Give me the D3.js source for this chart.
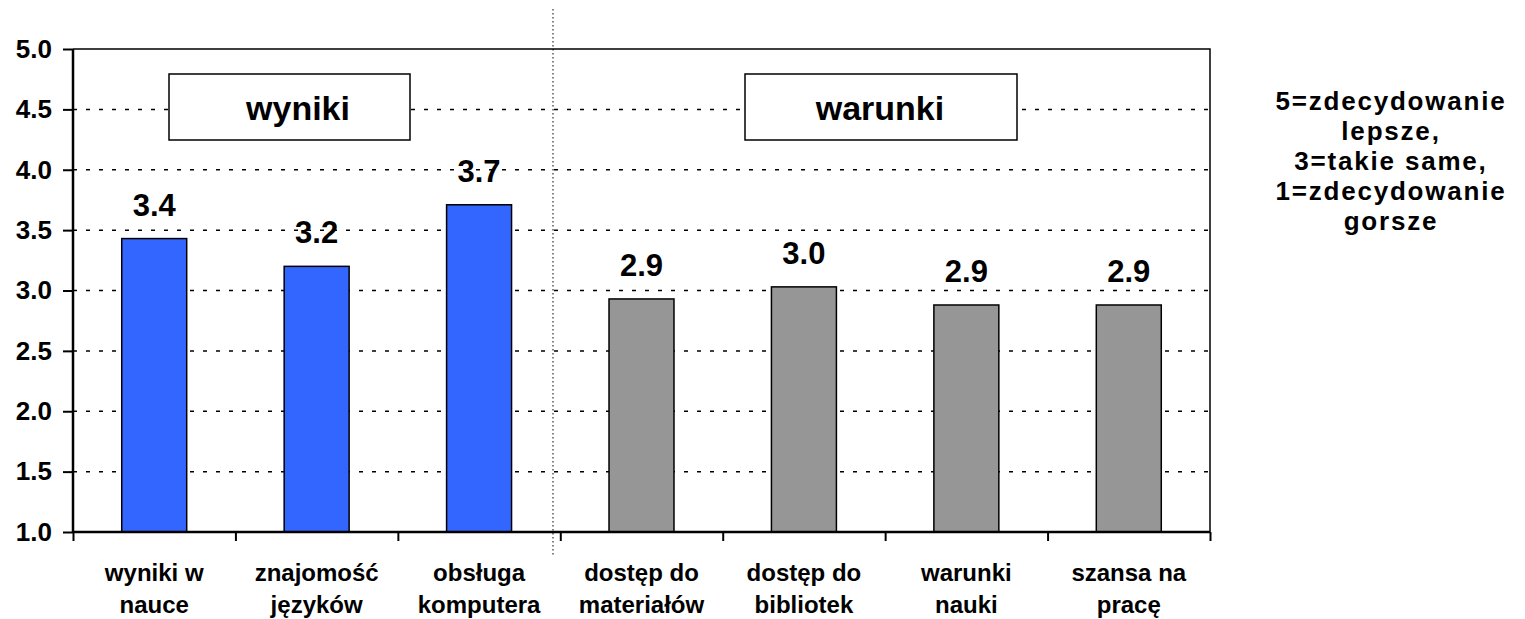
<!DOCTYPE html>
<html>
<head>
<meta charset="utf-8">
<script src="https://cdn.jsdelivr.net/npm/d3@7"></script>
<style>
  body { margin: 0; background: #fff; }
  svg text { font-family: "Liberation Sans", Arial, sans-serif; font-weight: bold; fill: #000; }
</style>
</head>
<body>
<div id="chart"></div>
<script>
// kategorie (dwie linie etykiety)
const categories = [
  ["wyniki w", "nauce"],
  ["znajomość", "języków"],
  ["obsługa", "komputera"],
  ["dostęp do", "materiałów"],
  ["dostęp do", "bibliotek"],
  ["warunki", "nauki"],
  ["szansa na", "pracę"]
];
const values = [3.43, 3.20, 3.71, 2.93, 3.03, 2.88, 2.88];
const groups = ["wyniki", "wyniki", "wyniki", "warunki", "warunki", "warunki", "warunki"];
const yTicks = [1.0, 1.5, 2.0, 2.5, 3.0, 3.5, 4.0, 4.5, 5.0];
const groupTitles = ["wyniki", "warunki"];
const noteLines = ["5=zdecydowanie", "lepsze,", "3=takie same,", "1=zdecydowanie", "gorsze"];

const width = 1525, height = 619;
const plot = { left: 73, right: 1210, top: 49, bottom: 532 };

const svg = d3.select("#chart").append("svg")
    .attr("width", width)
    .attr("height", height);

const x = d3.scaleBand()
    .domain(d3.range(categories.length))
    .range([plot.left, plot.right])
    .paddingInner(0.6)
    .paddingOuter(0.3);

const y = d3.scaleLinear()
    .domain([1, 5])
    .range([plot.bottom, plot.top]);

// siatka - krótkie kreski
svg.append("g")
  .selectAll("line")
  .data(yTicks.filter(d => d > 1 && d < 5))
  .join("line")
    .attr("x1", plot.left)
    .attr("x2", plot.right)
    .attr("y1", d => y(d))
    .attr("y2", d => y(d))
    .attr("stroke", "#000")
    .attr("stroke-width", 1.5)
    .attr("stroke-dasharray", "4,9");

// ramka obszaru wykresu (góra i prawa strona)
svg.append("path")
    .attr("d", `M${plot.left},${y(5)}H${plot.right}V${plot.bottom}`)
    .attr("fill", "none")
    .attr("stroke", "#000")
    .attr("stroke-width", 1.5);

// pionowa linia podziału
const divX = 553;
svg.append("line")
    .attr("x1", divX).attr("x2", divX)
    .attr("y1", 9).attr("y2", 557)
    .attr("stroke", "#000")
    .attr("stroke-width", 1)
    .attr("stroke-dasharray", "1.5,2.5");

// pola z tytułami grup
const boxes = [
  { x0: 169, x1: 410, tx: 298 },
  { x0: 745, x1: 1017, tx: 880 }
];
boxes.forEach((b, i) => {
  svg.append("rect")
      .attr("x", b.x0).attr("y", 74)
      .attr("width", b.x1 - b.x0).attr("height", 66)
      .attr("fill", "#fff")
      .attr("stroke", "#000")
      .attr("stroke-width", 1.5);
  svg.append("text")
      .attr("x", b.tx)
      .attr("y", 120)
      .attr("text-anchor", "middle")
      .attr("font-size", 34)
      .text(groupTitles[i]);
});

// słupki
svg.append("g")
  .selectAll("rect")
  .data(values)
  .join("rect")
    .attr("x", (d, i) => x(i))
    .attr("y", d => y(d))
    .attr("width", x.bandwidth())
    .attr("height", d => y(1) - y(d))
    .attr("fill", (d, i) => groups[i] === "wyniki" ? "#3366ff" : "#969696")
    .attr("stroke", "#000")
    .attr("stroke-width", 1.5);

// wartości nad słupkami
svg.append("g")
  .selectAll("text")
  .data(values)
  .join("text")
    .attr("x", (d, i) => x(i) + x.bandwidth() / 2)
    .attr("y", d => y(d) - 23)
    .attr("text-anchor", "middle")
    .attr("font-size", 31)
    .text(d => d3.format(".1f")(d));

// oś Y
const yAxis = svg.append("g")
    .attr("transform", `translate(${plot.left},0)`)
    .call(d3.axisLeft(y).tickValues(yTicks).tickSize(10).tickPadding(11).tickFormat(d3.format(".1f")));
yAxis.select(".domain").attr("stroke-width", 2.5).attr("d", `M0,${plot.top}V${plot.bottom}`);
yAxis.selectAll(".tick line").attr("stroke-width", 2);
yAxis.selectAll(".tick text")
    .attr("font-size", 26)
    .attr("font-family", "Liberation Sans, Arial, sans-serif")
    .attr("font-weight", "bold");

// oś X - kreski na granicach kategorii
const xEdge = d3.scaleLinear().domain([0, categories.length]).range([plot.left, plot.right]);
const xAxis = svg.append("g")
    .attr("transform", `translate(0,${plot.bottom})`)
    .call(d3.axisBottom(xEdge).tickValues(d3.range(categories.length + 1)).tickSize(9).tickFormat(""));
xAxis.select(".domain").attr("stroke-width", 2.5).attr("d", `M${plot.left},0H${plot.right}`);
xAxis.selectAll(".tick line").attr("stroke-width", 2);

// etykiety kategorii
const catLabels = svg.append("g")
  .selectAll("text")
  .data(categories)
  .join("text")
    .attr("text-anchor", "middle")
    .attr("font-size", 24);
catLabels.each(function(d, i) {
  const t = d3.select(this);
  d.forEach((line, j) => {
    t.append("tspan")
        .attr("x", x(i) + x.bandwidth() / 2)
        .attr("y", 581 + j * 32)
        .text(line);
  });
});

// objaśnienie skali
const note = svg.append("text")
    .attr("text-anchor", "middle")
    .attr("font-size", 26)
    .attr("letter-spacing", 1.8);
noteLines.forEach((line, j) => {
  note.append("tspan")
      .attr("x", 1391)
      .attr("y", 110 + j * 30)
      .text(line);
});
</script>
</body>
</html>
